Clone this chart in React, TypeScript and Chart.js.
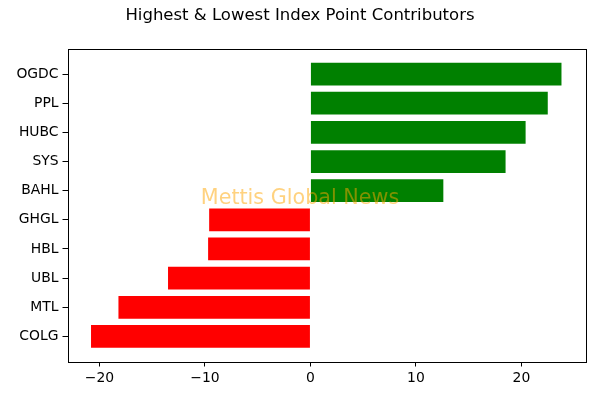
import React, { useEffect, useRef } from "react";
import { Chart, registerables } from "chart.js";

Chart.register(...registerables);

const categories = ["OGDC", "PPL", "HUBC", "SYS", "BAHL", "GHGL", "HBL", "UBL", "MTL", "COLG"];
const values = [23.8, 22.5, 20.4, 18.5, 12.6, -9.6, -9.7, -13.5, -18.2, -20.8];
const xTicks = [-20, -10, 0, 10, 20];
const titleText = "Highest & Lowest Index Point Contributors";
const watermarkText = "Mettis Global News";

const FONT = "'DejaVu Sans', sans-serif";

const framePlugin = {
  id: "frame",
  afterDatasetsDraw(chart: any) {
    const ctx = chart.ctx;
    const w = chart.width;
    ctx.save();
    ctx.font = `20.7px ${FONT}`;
    ctx.fillStyle = "rgba(255,165,0,0.5)";
    ctx.textAlign = "center";
    ctx.textBaseline = "middle";
    ctx.fillText(watermarkText, w / 2, 199);
    ctx.restore();
  },
  afterDraw(chart: any) {
    const { left, right, top, bottom } = chart.chartArea;
    const ctx = chart.ctx;
    ctx.save();
    ctx.strokeStyle = "#000";
    ctx.lineWidth = 1;
    ctx.strokeRect(Math.round(left) + 0.5, Math.round(top) + 0.5, Math.round(right - left), Math.round(bottom - top));
    ctx.restore();
  },
};

export default function App() {
  const ref = useRef<HTMLCanvasElement | null>(null);
  useEffect(() => {
    if (!ref.current) return;
    const chart = new Chart(ref.current, {
      type: "bar",
      data: {
        datasets: [
          {
            data: values.map((v, i) => ({ x: v, y: i })),
            backgroundColor: values.map((v) => (v >= 0 ? "#008000" : "#ff0000")),
            borderWidth: 0,
            barPercentage: 0.78,
            categoryPercentage: 1,
          },
        ],
      },
      options: {
        indexAxis: "y",
        responsive: false,
        animation: false,
        layout: { padding: { left: 15, right: 15, top: 0, bottom: 0 } },
        plugins: {
          legend: { display: false },
          tooltip: { enabled: false },
          title: {
            display: true,
            text: titleText,
            color: "#000",
            font: { family: FONT, size: 16.5, weight: "normal", lineHeight: 1.2 },
            padding: { top: 6, bottom: 23.2 },
          },
        },
        scales: {
          x: {
            type: "linear",
            min: -23.03,
            max: 26.03,
            offset: false,
            afterBuildTicks: (scale: any) => {
              scale.ticks = xTicks.map((v) => ({ value: v }));
            },
            afterFit: (scale: any) => {
              scale.height = 38.5;
            },
            grid: { display: true, offset: false, drawOnChartArea: false, drawTicks: true, tickLength: 5, color: "#000", tickWidth: 1 },
            border: { display: false },
            ticks: {
              color: "#000",
              font: { family: FONT, size: 13.9 },
              padding: 4,
              maxRotation: 0,
              callback: (v: any) => String(v).replace("-", "\u2212"),
            },
          },
          y: {
            type: "linear",
            reverse: true,
            min: -0.86,
            max: 9.86,
            offset: false,
            afterBuildTicks: (scale: any) => {
              scale.ticks = categories.map((_, i) => ({ value: i }));
            },
            afterFit: (scale: any) => {
              scale.width = 52.5;
            },
            grid: { display: true, offset: false, drawOnChartArea: false, drawTicks: true, tickLength: 5, color: "#000", tickWidth: 1 },
            border: { display: false },
            ticks: {
              color: "#000",
              font: { family: FONT, size: 13.9 },
              padding: 4,
              callback: (v: any) => categories[v as number] ?? "",
            },
          },
        },
      },
      plugins: [framePlugin],
    } as any);
    return () => chart.destroy();
  }, []);
  return (
    <div style={{ position: "absolute", left: 0, top: 0, width: 600, height: 400, background: "#fff" }}>
      <canvas ref={ref} width={600} height={400} style={{ display: "block" }} />
    </div>
  );
}
